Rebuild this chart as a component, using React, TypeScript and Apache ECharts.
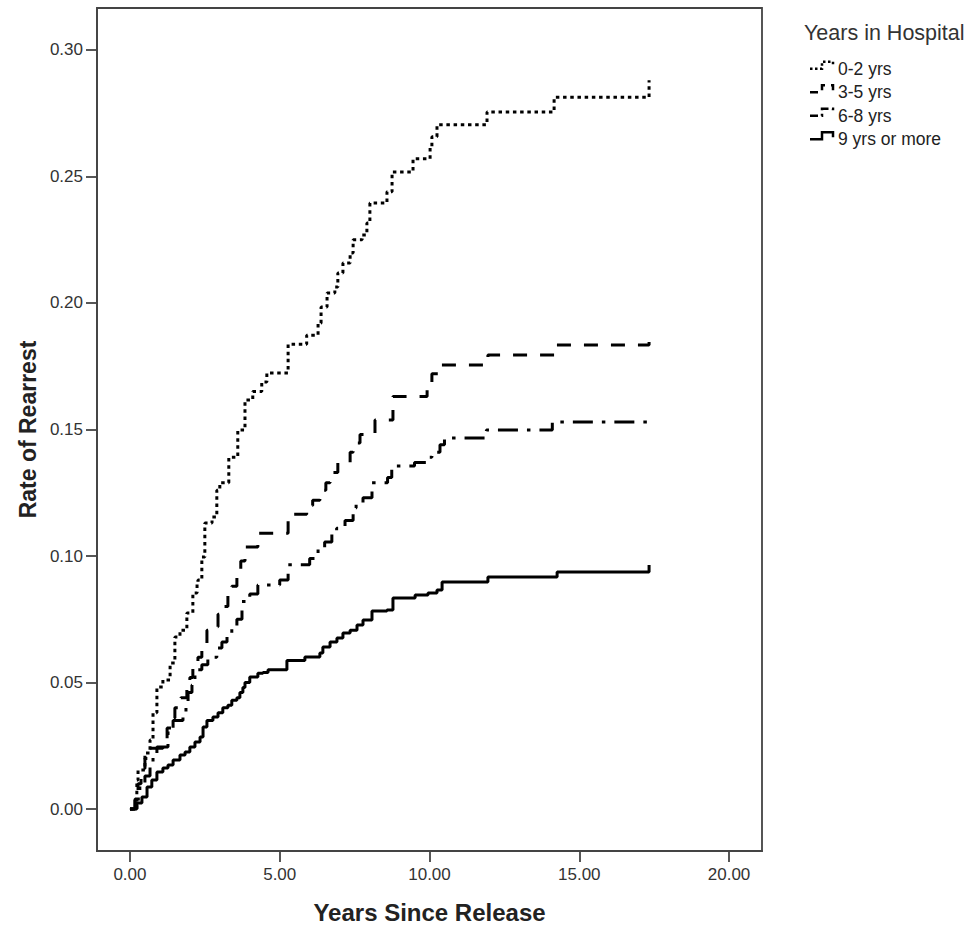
import React, { useEffect, useRef } from "react";
import * as echarts from "echarts";

const xTicks = [0, 5, 10, 15, 20];
const yTicks = [0, 0.05, 0.1, 0.15, 0.2, 0.25, 0.3];
const groupNames = ["0-2 yrs", "3-5 yrs", "6-8 yrs", "9 yrs or more"];

// [years since release, cumulative rate of rearrest] at each step
const grp0to2: [number, number][] = [[0,0],[0.23,0.0115],[0.27,0.0154],[0.5,0.0221],[0.67,0.0273],[0.77,0.038],[0.9,0.0482],[1.1,0.051],[1.34,0.0577],[1.5,0.068],[1.67,0.0707],[1.9,0.0775],[2.1,0.0854],[2.24,0.0893],[2.27,0.0905],[2.4,0.0996],[2.5,0.113],[2.74,0.1154],[2.9,0.126],[3.0,0.129],[3.3,0.139],[3.6,0.1498],[3.84,0.1617],[4.1,0.165],[4.4,0.1688],[4.57,0.1723],[5.28,0.1837],[5.9,0.1873],[6.28,0.192],[6.38,0.1984],[6.58,0.204],[6.84,0.2063],[6.94,0.2119],[7.11,0.2158],[7.35,0.2198],[7.45,0.225],[7.75,0.2269],[7.91,0.2316],[8.01,0.2395],[8.58,0.244],[8.75,0.2518],[9.45,0.257],[10.02,0.2613],[10.08,0.2657],[10.25,0.2705],[11.92,0.2755],[14.16,0.2813],[17.33,0.288]];
const grp3to5: [number, number][] = [[0,0],[0.17,0.005],[0.27,0.01],[0.37,0.016],[0.5,0.02],[0.67,0.024],[1.1,0.027],[1.24,0.032],[1.4,0.036],[1.5,0.04],[1.7,0.044],[1.9,0.048],[2.0,0.052],[2.1,0.056],[2.27,0.06],[2.4,0.064],[2.57,0.0707],[2.74,0.072],[2.94,0.077],[3.1,0.08],[3.27,0.085],[3.4,0.088],[3.57,0.093],[3.7,0.098],[3.84,0.1036],[4.27,0.109],[5.28,0.1165],[5.9,0.12],[6.1,0.122],[6.34,0.126],[6.54,0.129],[6.68,0.133],[6.94,0.137],[7.35,0.141],[7.45,0.1447],[7.68,0.148],[8.18,0.1538],[8.78,0.163],[9.92,0.1664],[10.08,0.172],[10.35,0.1755],[11.95,0.1794],[14.19,0.1834],[17.33,0.188]];
const grp6to8: [number, number][] = [[0,0],[0.17,0.004],[0.33,0.009],[0.5,0.013],[0.67,0.017],[0.77,0.022],[0.9,0.0245],[1.27,0.03],[1.44,0.035],[1.77,0.038],[1.87,0.041],[1.94,0.046],[2.07,0.049],[2.17,0.055],[2.4,0.057],[2.6,0.06],[2.9,0.0636],[3.07,0.066],[3.24,0.0696],[3.4,0.072],[3.57,0.075],[3.74,0.082],[4.0,0.085],[4.27,0.0885],[5.0,0.0905],[5.28,0.0965],[6.0,0.099],[6.28,0.103],[6.5,0.1055],[6.74,0.109],[6.9,0.111],[7.18,0.114],[7.45,0.119],[7.55,0.121],[7.78,0.123],[8.08,0.129],[8.6,0.131],[8.74,0.1356],[9.5,0.137],[9.9,0.139],[10.08,0.141],[10.35,0.144],[10.5,0.1466],[11.9,0.1498],[14.1,0.153],[17.33,0.1557]];
const grp9plus: [number, number][] = [[0,0],[0.23,0.0024],[0.4,0.0047],[0.57,0.0087],[0.73,0.0115],[0.9,0.0146],[1.1,0.0162],[1.27,0.0174],[1.44,0.0194],[1.67,0.0213],[1.84,0.0225],[2.0,0.0245],[2.17,0.0265],[2.34,0.0285],[2.44,0.0324],[2.57,0.035],[2.77,0.0364],[2.94,0.038],[3.1,0.04],[3.27,0.041],[3.4,0.043],[3.57,0.044],[3.67,0.046],[3.77,0.048],[3.84,0.05],[4.0,0.0522],[4.27,0.0537],[4.44,0.054],[4.61,0.055],[5.24,0.0587],[5.84,0.0601],[6.34,0.0617],[6.44,0.064],[6.68,0.066],[6.91,0.0676],[7.11,0.0696],[7.35,0.0707],[7.58,0.0727],[7.78,0.0747],[8.08,0.0783],[8.58,0.0787],[8.78,0.0834],[9.52,0.0846],[9.95,0.0854],[10.25,0.0866],[10.42,0.0897],[11.95,0.0917],[14.26,0.0937],[17.33,0.0964]];

const FONT = "'Liberation Sans', Arial, sans-serif";

export default function App() {
  const ref = useRef<HTMLDivElement>(null);
  useEffect(() => {
    if (!ref.current) return;
    const chart = echarts.init(ref.current, undefined, { renderer: "svg" });
    const dashes: any[] = [[3.5, 3.7], [14, 13], [20, 9, 3.5, 9], "solid"];
    const iconDashes: any[] = [[2.5, 2.5], [8, 6], [8, 3.5, 2.5, 3.5], null];
    const datasets = [grp0to2, grp3to5, grp6to8, grp9plus];
    const legendLeft = 810;
    const legendTop = 52;
    const rowH = 23.5;
    const icons = groupNames.map((_, i) => {
      const cy = legendTop + rowH * i + rowH / 2 + 1;
      return {
        type: "polyline",
        silent: true,
        shape: {
          points: [
            [legendLeft, cy + 4],
            [legendLeft + 12, cy + 4],
            [legendLeft + 12, cy - 3],
            [legendLeft + 23, cy - 3],
            [legendLeft + 23, cy + 2],
          ],
        },
        style: { stroke: "#000", fill: null, lineWidth: 2.5, lineDash: iconDashes[i] },
      };
    });
    chart.setOption({
      animation: false,
      backgroundColor: "#ffffff",
      textStyle: { fontFamily: FONT },
      title: {
        text: "Years in Hospital",
        left: 799,
        top: 17,
        textStyle: { fontFamily: FONT, fontSize: 21.5, fontWeight: "normal", color: "#333" },
      },
      legend: {
        orient: "vertical",
        left: legendLeft,
        top: legendTop,
        icon: "none",
        itemWidth: 18,
        itemHeight: 10,
        itemGap: 0,
        data: groupNames,
        textStyle: { fontFamily: FONT, fontSize: 17.5, lineHeight: rowH, color: "#222" },
      },
      graphic: icons,
      grid: {
        left: 97,
        top: 8,
        width: 665,
        height: 843,
        outerBoundsMode: "none",
        containLabel: false,
        show: true,
        borderColor: "#444",
        borderWidth: 1.8,
        backgroundColor: "#fff",
      },
      xAxis: {
        type: "value",
        min: -1.1,
        max: 21.1,
        name: "Years Since Release",
        nameLocation: "middle",
        nameGap: 49,
        nameTextStyle: { fontFamily: FONT, fontSize: 24, fontWeight: "bold", color: "#222" },
        axisLine: { show: true, onZero: false, lineStyle: { color: "#444", width: 1.8 } },
        axisTick: { show: true, length: 11, customValues: xTicks, lineStyle: { color: "#444", width: 1.8 } },
        axisLabel: {
          customValues: xTicks,
          margin: 15,
          fontFamily: FONT,
          fontSize: 17,
          color: "#333",
          formatter: (v: number) => v.toFixed(2),
        },
        splitLine: { show: false },
      },
      yAxis: {
        type: "value",
        min: -0.0166,
        max: 0.3166,
        name: "Rate of Rearrest",
        nameLocation: "middle",
        nameGap: 55,
        nameRotate: 90,
        nameTextStyle: { fontFamily: FONT, fontSize: 23, fontWeight: "bold", color: "#222" },
        axisLine: { show: true, onZero: false, lineStyle: { color: "#444", width: 1.8 } },
        axisTick: { show: true, length: 11, customValues: yTicks, lineStyle: { color: "#444", width: 1.8 } },
        axisLabel: {
          customValues: yTicks,
          margin: 14,
          fontFamily: FONT,
          fontSize: 17,
          color: "#333",
          formatter: (v: number) => v.toFixed(2),
        },
        splitLine: { show: false },
      },
      series: datasets.map((d, i) => ({
        name: groupNames[i],
        type: "line",
        step: "end",
        data: d,
        symbol: "none",
        showSymbol: false,
        lineStyle: { color: "#000", width: 3, type: dashes[i], cap: "butt" },
        itemStyle: { color: "#000" },
      })),
    });
    return () => chart.dispose();
  }, []);
  return <div ref={ref} style={{ position: "fixed", left: 0, top: 0, width: 969, height: 929 }} />;
}
